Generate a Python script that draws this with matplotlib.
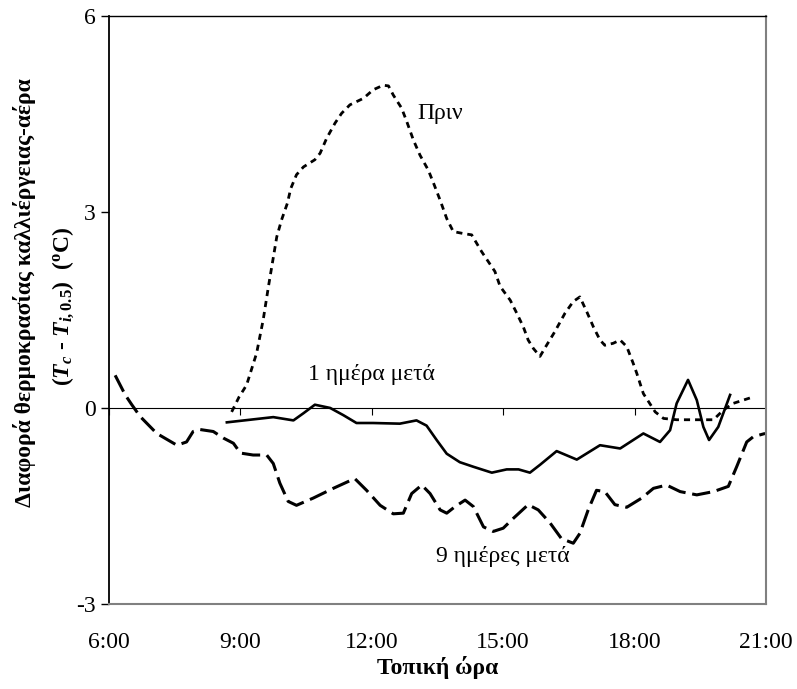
import numpy as np
import matplotlib
matplotlib.use('Agg')
import matplotlib.pyplot as plt

plt.rcParams['font.family'] = ['Liberation Serif', 'DejaVu Serif']
plt.rcParams['axes.unicode_minus'] = False
plt.rcParams['mathtext.fontset'] = 'custom'
plt.rcParams['mathtext.rm'] = 'Liberation Serif:bold'
plt.rcParams['mathtext.it'] = 'Liberation Serif:italic:bold'
plt.rcParams['mathtext.bf'] = 'Liberation Serif:bold'

# local time (hours) and temperature difference (oC)
before_h = [8.80, 8.97, 9.14, 9.37, 9.52, 9.64, 9.71, 9.83, 9.94, 10.07, 10.15, 10.28, 10.44, 10.70,
            10.82, 10.97, 11.16, 11.31, 11.50, 11.81, 12.03, 12.26, 12.38, 12.49, 12.68, 12.80, 12.95,
            13.10, 13.29, 13.41, 13.56, 13.71, 13.86, 14.09, 14.28, 14.51, 14.81, 14.93, 15.16, 15.31,
            15.46, 15.57, 15.69, 15.84, 15.99, 16.18, 16.41, 16.60, 16.75, 16.91, 17.06, 17.21, 17.32,
            17.51, 17.67, 17.82, 17.97, 18.05, 18.20, 18.47, 18.66, 18.96, 19.34, 19.80, 20.03, 20.25,
            20.71]
before_v = [-0.06, 0.17, 0.35, 0.84, 1.35, 1.86, 2.14, 2.62, 2.88, 3.13, 3.36, 3.57, 3.69, 3.80,
            3.90, 4.13, 4.36, 4.51, 4.64, 4.74, 4.87, 4.94, 4.93, 4.79, 4.59, 4.38, 4.10,
            3.87, 3.64, 3.44, 3.18, 2.90, 2.70, 2.67, 2.65, 2.39, 2.09, 1.86, 1.65, 1.45,
            1.24, 1.04, 0.91, 0.79, 0.96, 1.17, 1.45, 1.63, 1.70, 1.47, 1.24, 1.04, 0.96,
            0.99, 1.04, 0.94, 0.68, 0.53, 0.22, -0.06, -0.16, -0.18, -0.18, -0.18, -0.03, 0.07,
            0.17]

day1_h = [8.69, 9.22, 9.75, 10.21, 10.44, 10.70, 11.05, 11.35, 11.65, 12.03, 12.64, 13.02, 13.25,
          13.48, 13.71, 14.01, 14.32, 14.74, 15.08, 15.35, 15.61, 15.84, 16.22, 16.68, 17.21, 17.67,
          18.20, 18.58, 18.81, 18.96, 19.22, 19.42, 19.57, 19.70, 19.91, 20.18]
day1_v = [-0.22, -0.18, -0.14, -0.19, -0.08, 0.05, 0.0, -0.11, -0.23, -0.23, -0.24, -0.19, -0.27,
          -0.49, -0.70, -0.83, -0.90, -0.99, -0.94, -0.94, -0.99, -0.87, -0.66, -0.79, -0.57, -0.62,
          -0.39, -0.52, -0.34, 0.07, 0.43, 0.12, -0.29, -0.49, -0.29, 0.20]

day9_h = [6.14, 6.37, 6.52, 6.71, 7.09, 7.55, 7.77, 7.92, 8.08, 8.38, 8.61, 8.84, 9.0, 9.29, 9.6,
          9.75, 9.90, 10.09, 10.28, 10.66, 11.12, 11.61, 11.88, 12.19, 12.49, 12.72, 12.91, 13.14,
          13.33, 13.56, 13.71, 13.90, 14.13, 14.32, 14.55, 14.77, 15.0, 15.23, 15.57, 15.80, 16.07,
          16.33, 16.60, 16.75, 16.94, 17.13, 17.32, 17.55, 17.82, 18.16, 18.43, 18.73, 19.04, 19.42,
          19.80, 20.14, 20.33, 20.56, 20.71, 20.98]
day9_v = [0.50, 0.20, 0.05, -0.13, -0.39, -0.57, -0.52, -0.36, -0.33, -0.36, -0.46, -0.54, -0.69,
          -0.72, -0.72, -0.85, -1.15, -1.43, -1.49, -1.38, -1.23, -1.08, -1.26, -1.49, -1.62, -1.61,
          -1.31, -1.18, -1.31, -1.56, -1.61, -1.51, -1.41, -1.51, -1.82, -1.89, -1.84, -1.69, -1.48,
          -1.56, -1.76, -2.0, -2.07, -1.92, -1.56, -1.26, -1.28, -1.48, -1.52, -1.38, -1.23, -1.18,
          -1.28, -1.33, -1.28, -1.20, -0.90, -0.52, -0.44, -0.39]

hour_ticks = [6, 9, 12, 15, 18, 21]
hour_labels = ['%d:00' % h for h in hour_ticks]
y_ticks = [-3, 0, 3, 6]

fig = plt.figure(figsize=(7.97, 6.89), dpi=100)
ax = fig.add_axes([0.1368, 0.1234, 0.8243, 0.8534])

ax.plot(before_h, before_v, color='black', lw=2.0, dashes=(2.2, 1.8))
ax.plot(day1_h, day1_v, color='black', lw=1.9)
ax.plot(day9_h, day9_v, color='black', lw=2.2, dashes=(6, 2.2))

# horizontal axis crossing at zero, with its tick marks
ax.axhline(0, color='black', lw=0.8, zorder=1)
ax.plot(hour_ticks, np.zeros(len(hour_ticks)), ls='none', marker=3, ms=5,
        mec='black', mew=0.8, zorder=1)

ax.set_xlim(6, 21)
ax.set_ylim(-3, 6)
ax.set_xticks(hour_ticks)
ax.set_xticklabels(hour_labels)
ax.set_yticks(y_ticks)
ax.tick_params(axis='x', length=0, labelsize=17, pad=20)
ax.tick_params(axis='y', length=5.5, width=1.0, direction='out', labelsize=17, pad=4)

for side in ['right', 'bottom']:
    ax.spines[side].set_color('#808080')
    ax.spines[side].set_linewidth(1.5)
ax.spines['top'].set_color('black')
ax.spines['top'].set_linewidth(1.0)
ax.spines['left'].set_color('black')
ax.spines['left'].set_linewidth(1.3)

ax.text(13.55, 4.5, 'Πριν', fontsize=17, ha='center', va='center')
ax.text(12.0, 0.52, '1 ημέρα μετά', fontsize=17, ha='center', va='center')
ax.text(15.0, -2.27, '9 ημέρες μετά', fontsize=17, ha='center', va='center')

ax.set_xlabel('Τοπική ώρα', fontsize=17, fontweight='bold', labelpad=2)

fig.text(25 / 797, 1 - 293 / 689, 'Διαφορά θερμοκρασίας καλλιέργειας-αέρα', rotation=90,
         fontsize=17, fontweight='bold', ha='center', va='center')
fig.text(63 / 797, 1 - 306 / 689, r'($T_c$ - $T_{i,0.5})$  ($^{\rm o}$C)', rotation=90,
         fontsize=17, fontweight='bold', ha='center', va='center')

fig.savefig('out.png', dpi=100)
